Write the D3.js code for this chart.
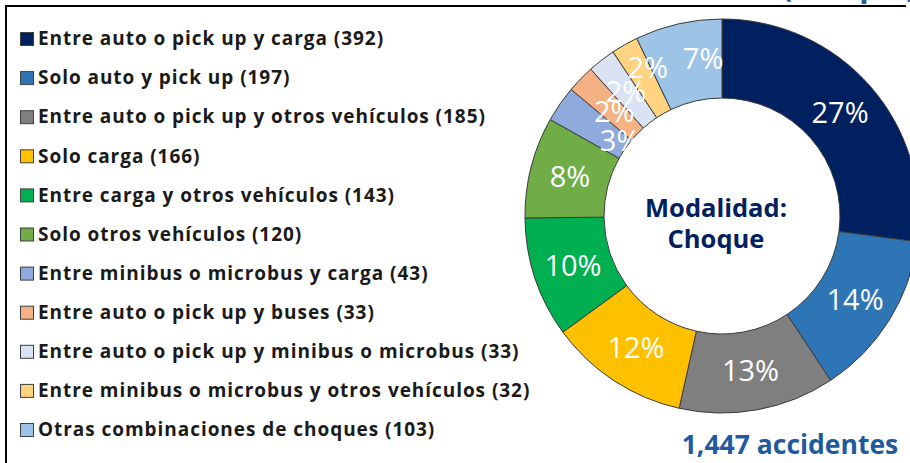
<!DOCTYPE html>
<html>
<head>
<meta charset="utf-8">
<script src="https://cdn.jsdelivr.net/npm/d3@7"></script>
<style>
  html, body { margin: 0; padding: 0; background: #fff; }
  svg { display: block; font-family: "Open Sans", Lato, sans-serif; }
</style>
</head>
<body>
<svg id="chart" width="910" height="463"></svg>
<script>
// ── DATA ──────────────────────────────────────────────────────
const categories = [
  "Entre auto o pick up y carga",
  "Solo auto y pick up",
  "Entre auto o pick up y otros vehículos",
  "Solo carga",
  "Entre carga y otros vehículos",
  "Solo otros vehículos",
  "Entre minibus o microbus y carga",
  "Entre auto o pick up y buses",
  "Entre auto o pick up y minibus o microbus",
  "Entre minibus o microbus y otros vehículos",
  "Otras combinaciones de choques"
];
const counts = [392, 197, 185, 166, 143, 120, 43, 33, 33, 32, 103];
// percentage labels as printed on the slices
const pctLabels = ["27%", "14%", "13%", "12%", "10%", "8%", "3%", "2%", "2%", "2%", "7%"];
const colors = [
  "#002060", "#2E75B6", "#7F7F7F", "#FFC000", "#00B050", "#70AD47",
  "#8FAADC", "#F4B183", "#DAE3F3", "#FFD37F", "#9DC3E6"
];
const centerLines = ["Modalidad:", "Choque"];
const totalLabel = "1,447 accidentes";

// ── LAYOUT ────────────────────────────────────────────────────
const svg = d3.select("#chart");
const cx = 722, cy = 216;
const outerR = 197, innerR = 118;
const labelR = 157;
// labels of the thin slices are nudged like in the slide (radius, angle in degrees)
const labelNudge = { 6: [127, 2], 7: [150, 0], 9: [166, 3], 10: [159, 6] };

// cropped heading + frame lines of the slide
svg.append("text")
  .attr("x", 782).attr("y", -3)
  .attr("fill", "#1F5AA0")
  .style("font-size", "30px").style("font-weight", "700")
  .text("(Choque)");

svg.append("line")
  .attr("x1", 5).attr("x2", 906).attr("y1", 6).attr("y2", 6)
  .attr("stroke", "#000").attr("stroke-width", 2);
svg.append("line")
  .attr("x1", 6).attr("x2", 6).attr("y1", 5).attr("y2", 463)
  .attr("stroke", "#000").attr("stroke-width", 2);

// ── DONUT ─────────────────────────────────────────────────────
const pie = d3.pie().sort(null).value(d => d);
const arcs = pie(counts);
const arc = d3.arc().innerRadius(innerR).outerRadius(outerR);

const donut = svg.append("g").attr("transform", `translate(${cx},${cy})`);

donut.selectAll("path")
  .data(arcs)
  .join("path")
    .attr("d", arc)
    .attr("fill", (d, i) => colors[i])
    .attr("stroke", "#3a3a3a")
    .attr("stroke-width", 1);

donut.selectAll("text.pct")
  .data(arcs)
  .join("text")
    .attr("class", "pct")
    .attr("transform", (d, i) => {
      const [r, shift] = labelNudge[i] || [labelR, 0];
      const a = (d.startAngle + d.endAngle) / 2 + shift * Math.PI / 180;
      return `translate(${r * Math.sin(a)},${-r * Math.cos(a)})`;
    })
    .attr("text-anchor", "middle")
    .attr("dy", "0.36em")
    .attr("fill", "#fff")
    .style("font-size", "29px")
    .style("font-weight", "400")
    .text((d, i) => pctLabels[i]);

// centre title
svg.append("text")
  .attr("x", 716).attr("y", 217)
  .attr("text-anchor", "middle")
  .attr("fill", "#002060")
  .style("font-size", "25.5px").style("font-weight", "700")
  .text(centerLines[0]);
svg.append("text")
  .attr("x", 716).attr("y", 248)
  .attr("text-anchor", "middle")
  .attr("fill", "#002060")
  .style("font-size", "25.5px").style("font-weight", "700")
  .text(centerLines[1]);

// total
svg.append("text")
  .attr("x", 790).attr("y", 454)
  .attr("text-anchor", "middle")
  .attr("fill", "#1F5AA0")
  .style("font-size", "26.5px").style("font-weight", "700")
  .text(totalLabel);

// ── LEGEND ────────────────────────────────────────────────────
const rowY = d3.scalePoint()
  .domain(d3.range(categories.length))
  .range([39, 430]);

const legend = svg.append("g").attr("class", "legend");
const rows = legend.selectAll("g")
  .data(categories)
  .join("g")
    .attr("transform", (d, i) => `translate(0,${rowY(i)})`);

rows.append("rect")
  .attr("x", 20.5).attr("y", -6.5)
  .attr("width", 13).attr("height", 13)
  .attr("fill", (d, i) => colors[i])
  .attr("stroke", "#404040")
  .attr("stroke-width", 1);

rows.append("text")
  .attr("x", 38).attr("dy", "0.33em")
  .attr("fill", "#1a1a1a")
  .style("font-size", "19px").style("font-weight", "700")
  .style("letter-spacing", "0.95px")
  .text((d, i) => `${d} (${counts[i]})`);
</script>
</body>
</html>
